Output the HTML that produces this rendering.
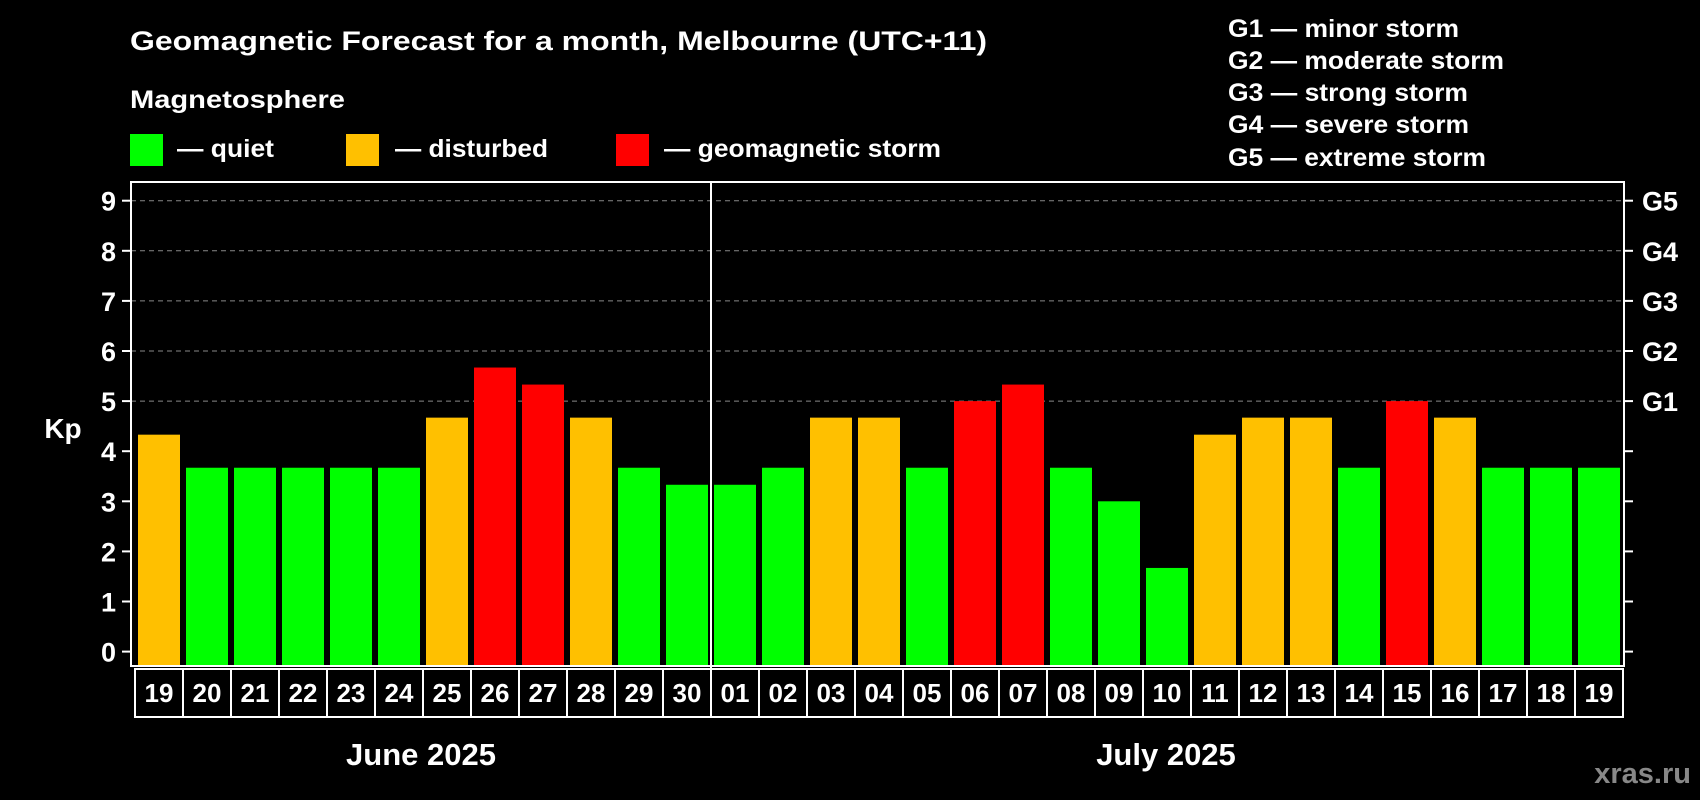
<!DOCTYPE html>
<html><head><meta charset="utf-8"><style>
html,body{margin:0;padding:0;background:#000;}
svg{display:block;font-family:"Liberation Sans",Arial,sans-serif;font-weight:bold;}
</style></head><body>
<svg id="chart" width="1700" height="800" viewBox="0 0 1700 800">
<text x="130" y="50" fill="#fff" font-size="27" textLength="857" lengthAdjust="spacingAndGlyphs">Geomagnetic Forecast for a month, Melbourne (UTC+11)</text>
<text x="130" y="108" fill="#fff" font-size="25" textLength="215" lengthAdjust="spacingAndGlyphs">Magnetosphere</text>
<g><rect x="130" y="134" width="33" height="32" fill="#00ff00"/><text x="177" y="157" fill="#fff" font-size="25" textLength="97" lengthAdjust="spacingAndGlyphs">— quiet</text></g>
<g><rect x="346" y="134" width="33" height="32" fill="#ffc000"/><text x="395" y="157" fill="#fff" font-size="25" textLength="153" lengthAdjust="spacingAndGlyphs">— disturbed</text></g>
<g><rect x="616" y="134" width="33" height="32" fill="#ff0000"/><text x="664" y="157" fill="#fff" font-size="25" textLength="277" lengthAdjust="spacingAndGlyphs">— geomagnetic storm</text></g>
<g font-size="25" fill="#fff" lengthAdjust="spacingAndGlyphs">
<text x="1228" y="37" textLength="231" lengthAdjust="spacingAndGlyphs">G1 — minor storm</text>
<text x="1228" y="69" textLength="276" lengthAdjust="spacingAndGlyphs">G2 — moderate storm</text>
<text x="1228" y="101" textLength="240" lengthAdjust="spacingAndGlyphs">G3 — strong storm</text>
<text x="1228" y="133" textLength="241" lengthAdjust="spacingAndGlyphs">G4 — severe storm</text>
<text x="1228" y="166" textLength="258" lengthAdjust="spacingAndGlyphs">G5 — extreme storm</text>
</g>
<text x="63" y="438" fill="#fff" font-size="28" text-anchor="middle">Kp</text>
<g id="grid"></g><g id="bars"></g><g id="axes"></g>
<text x="421" y="765" fill="#fff" font-size="31" text-anchor="middle">June 2025</text>
<text x="1166" y="765" fill="#fff" font-size="31" text-anchor="middle">July 2025</text>
<text x="1691" y="783" fill="#888" font-size="29" text-anchor="end">xras.ru</text>
</svg>
<script>
const days = ["19","20","21","22","23","24","25","26","27","28","29","30","01","02","03","04","05","06","07","08","09","10","11","12","13","14","15","16","17","18","19"];
const kpValues = [4.33,3.67,3.67,3.67,3.67,3.67,4.67,5.67,5.33,4.67,3.67,3.33,3.33,3.67,4.67,4.67,3.67,5,5.33,3.67,3,1.67,4.33,4.67,4.67,3.67,5,4.67,3.67,3.67,3.67];
const yTicks = [0,1,2,3,4,5,6,7,8,9];
const gLabels = ["G1","G2","G3","G4","G5"];
const monthSplit = 12;

const NS="http://www.w3.org/2000/svg";
const L=131,R=1624,T=182,B=666,Y0=651.6,UNIT=50.1;
const SLOT=48,X0=135,BW=42;
const y=v=>Y0-v*UNIT;
const x=i=>X0+i*SLOT;
function mk(tag,attrs,parent){const e=document.createElementNS(NS,tag);for(const k in attrs)e.setAttribute(k,attrs[k]);parent.appendChild(e);return e;}
const grid=document.getElementById('grid'),bars=document.getElementById('bars'),axes=document.getElementById('axes');
yTicks.forEach(v=>{
  if(v>=5){const g=mk('line',{x1:L,x2:R,y1:y(v),y2:y(v),stroke:'#888','stroke-width':1,'stroke-dasharray':'5,4'},grid);
    
    }
  mk('line',{x1:L-9,x2:L,y1:y(v),y2:y(v),stroke:'#fff','stroke-width':2},axes);
  mk('line',{x1:R,x2:R+9,y1:y(v),y2:y(v),stroke:'#fff','stroke-width':2},axes);
  const t=mk('text',{x:116,y:y(v)+10,fill:'#fff','font-size':27,'text-anchor':'end'},axes);
  t.textContent=v;
  
  
});
gLabels.forEach((g,i)=>{
  const t=mk('text',{x:1642,y:y(5+i)+10,fill:'#fff','font-size':27},axes);
  t.textContent=g;
  
  
});
kpValues.forEach((v,i)=>{
  const c=v>=5?'#ff0000':(v>=4?'#ffc000':'#00ff00');
  const r=mk('rect',{x:x(i)+3,y:y(v),width:BW,height:B-1-y(v),fill:c},bars);
  
  
  const b=mk('rect',{x:x(i),y:669,width:SLOT,height:48,fill:'none',stroke:'#fff','stroke-width':2},axes);
  
  
  const t=mk('text',{x:x(i)+SLOT/2,y:702,fill:'#fff','font-size':26,'text-anchor':'middle'},axes);
  t.textContent=days[i];
  
  
});
const f=mk('rect',{x:L,y:T,width:R-L,height:B-T,fill:'none',stroke:'#fff','stroke-width':2},axes);


const d=mk('line',{x1:x(monthSplit),x2:x(monthSplit),y1:T,y2:717,stroke:'#fff','stroke-width':2},axes);


</script>
</body></html>
